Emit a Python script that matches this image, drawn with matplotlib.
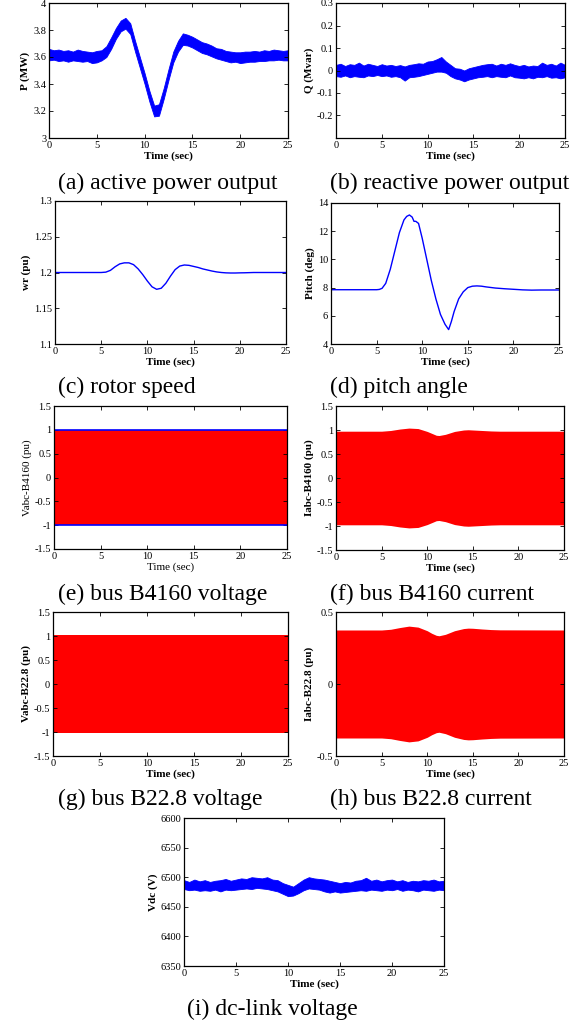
import matplotlib
matplotlib.use("Agg")
import matplotlib.pyplot as plt

plt.rcParams["font.family"] = ["Liberation Serif", "DejaVu Serif"]
plt.rcParams["axes.unicode_minus"] = False

# ---- data (time in sec) ----
T_HALF = [0, 0.5, 1, 1.5, 2, 2.5, 3, 3.5, 4, 4.5, 5, 5.5, 6, 6.5, 7, 7.5, 8, 8.5,
          9, 9.5, 10, 10.5, 11, 11.5, 12, 12.5, 13, 13.5, 14, 14.5, 15, 15.5, 16,
          16.5, 17, 17.5, 18, 18.5, 19, 19.5, 20, 20.5, 21, 21.5, 22, 22.5, 23,
          23.5, 24, 24.5, 25]

# (a) active power, noisy band edges (MW)
P_UPPER = [3.66, 3.65, 3.655, 3.645, 3.65, 3.64, 3.655, 3.645, 3.64, 3.635, 3.645,
           3.65, 3.68, 3.745, 3.815, 3.87, 3.89, 3.85, 3.72, 3.60, 3.48, 3.35, 3.24,
           3.25, 3.37, 3.51, 3.64, 3.72, 3.775, 3.765, 3.75, 3.73, 3.71, 3.70, 3.685,
           3.665, 3.66, 3.645, 3.64, 3.635, 3.635, 3.64, 3.64, 3.645, 3.64, 3.65,
           3.645, 3.655, 3.65, 3.645, 3.65]
P_LOWER = [3.575, 3.58, 3.57, 3.575, 3.565, 3.575, 3.57, 3.565, 3.57, 3.555, 3.56,
           3.575, 3.60, 3.66, 3.735, 3.79, 3.81, 3.77, 3.64, 3.52, 3.40, 3.27, 3.16,
           3.165, 3.29, 3.43, 3.56, 3.64, 3.69, 3.685, 3.67, 3.65, 3.63, 3.62, 3.605,
           3.59, 3.58, 3.57, 3.56, 3.565, 3.555, 3.56, 3.565, 3.565, 3.57, 3.57,
           3.575, 3.575, 3.58, 3.575, 3.575]

# (b) reactive power, noisy band edges (Mvar)
Q_UPPER = [0.025, 0.03, 0.02, 0.028, 0.025, 0.035, 0.022, 0.03, 0.025, 0.02, 0.028,
           0.022, 0.025, 0.02, 0.024, 0.018, 0.025, 0.028, 0.032, 0.03, 0.04, 0.042,
           0.05, 0.06, 0.04, 0.025, 0.01, 0.008, 0.0, 0.01, 0.015, 0.02, 0.025,
           0.028, 0.03, 0.022, 0.03, 0.025, 0.032, 0.025, 0.02, 0.025, 0.018, 0.022,
           0.02, 0.035, 0.025, 0.03, 0.022, 0.035, 0.025]
Q_LOWER = [-0.025, -0.028, -0.022, -0.03, -0.025, -0.028, -0.03, -0.022, -0.025,
           -0.02, -0.025, -0.022, -0.028, -0.025, -0.03, -0.045, -0.03, -0.028,
           -0.025, -0.02, -0.015, -0.01, -0.005, -0.005, -0.01, -0.025, -0.035,
           -0.04, -0.048, -0.04, -0.035, -0.03, -0.028, -0.025, -0.03, -0.025,
           -0.028, -0.03, -0.022, -0.03, -0.032, -0.035, -0.03, -0.035, -0.028,
           -0.03, -0.025, -0.032, -0.03, -0.035, -0.03]

# (c) rotor speed (pu)
WR = [1.2, 1.2, 1.2, 1.2, 1.2, 1.2, 1.2, 1.2, 1.2, 1.2, 1.2, 1.2005, 1.203, 1.208,
      1.212, 1.2135, 1.2135, 1.211, 1.205, 1.197, 1.188, 1.180, 1.1765, 1.178,
      1.185, 1.195, 1.204, 1.209, 1.2105, 1.210, 1.2085, 1.207, 1.205, 1.2035,
      1.202, 1.2008, 1.2, 1.1995, 1.1993, 1.1993, 1.1995, 1.1996, 1.1998, 1.2,
      1.2, 1.2, 1.2, 1.2, 1.2, 1.2, 1.2]

# (d) pitch angle (deg)
T_PITCH = [0, 5, 5.3, 5.6, 6, 6.5, 7, 7.5, 8, 8.3, 8.6, 8.9, 9.1, 9.3, 9.6, 10,
           10.5, 11, 11.5, 12, 12.5, 12.9, 13.2, 13.5, 14, 14.5, 15, 15.5, 16,
           16.5, 17, 18, 19, 20, 21, 22, 23, 25]
PITCH = [7.85, 7.85, 7.87, 7.95, 8.3, 9.3, 10.6, 11.9, 12.8, 13.05, 13.15, 13.0,
         12.7, 12.7, 12.55, 11.5, 10.0, 8.5, 7.2, 6.1, 5.4, 5.02, 5.6, 6.3, 7.2,
         7.7, 8.0, 8.1, 8.12, 8.1, 8.05, 7.97, 7.92, 7.88, 7.84, 7.82, 7.83, 7.83]

# (e)-(h) three-phase envelopes (pu)
T_ENV = [0, 5, 6, 7, 8, 9, 10, 10.5, 11, 11.3, 12, 13, 14, 14.5, 15, 16, 17, 18, 25]
V4160_ENV = [1.0] * len(T_ENV)
I4160_ENV = [0.975, 0.975, 0.99, 1.02, 1.04, 1.03, 0.97, 0.93, 0.89, 0.885, 0.91,
             0.97, 1.0, 1.005, 1.0, 0.99, 0.98, 0.975, 0.975]
V228_ENV = [1.03] * len(T_ENV)
I228_ENV = [0.375, 0.375, 0.38, 0.392, 0.402, 0.395, 0.37, 0.352, 0.338, 0.335,
            0.345, 0.37, 0.385, 0.388, 0.387, 0.382, 0.378, 0.376, 0.375]

# (i) dc-link voltage, noisy band edges (V)
VDC_UPPER = [6495, 6492, 6496, 6493, 6495, 6492, 6494, 6495, 6497, 6494, 6496,
             6498, 6497, 6500, 6499, 6498, 6500, 6496, 6495, 6490, 6487, 6484,
             6490, 6496, 6500, 6498, 6497, 6496, 6494, 6492, 6490, 6492, 6491,
             6494, 6495, 6499, 6494, 6496, 6493, 6495, 6496, 6493, 6495, 6492,
             6494, 6493, 6495, 6494, 6496, 6493, 6494]
VDC_LOWER = [6480, 6478, 6479, 6477, 6478, 6477, 6479, 6476, 6479, 6478, 6479,
             6480, 6481, 6480, 6482, 6481, 6480, 6478, 6476, 6472, 6468, 6469,
             6473, 6478, 6481, 6480, 6479, 6476, 6474, 6476, 6474, 6475, 6476,
             6477, 6478, 6477, 6479, 6478, 6477, 6479, 6478, 6480, 6477, 6479,
             6478, 6476, 6479, 6478, 6477, 6479, 6478]

X_TICKS = [0, 5, 10, 15, 20, 25]
BLUE = "#0000ff"
RED = "#ff0000"

W, H = 584, 1026


def add_ax(fig, left, top, right, bottom):
    return fig.add_axes([left / W, 1 - bottom / H, (right - left) / W,
                         (bottom - top) / H])


def style(ax, ylim, yticks, ylabel, bold=True):
    ax.set_xlim(0, 25)
    ax.set_ylim(*ylim)
    ax.set_xticks(X_TICKS)
    ax.set_xticklabels([f"{v:g}" for v in X_TICKS])
    ax.set_yticks(yticks)
    ax.set_yticklabels([f"{v:g}" for v in yticks])
    ax.tick_params(direction="in", top=True, right=True, length=3, width=0.6,
                   labelsize=7.5, pad=2)
    weight = "bold" if bold else "normal"
    ax.set_xlabel("Time (sec)", fontsize=8, fontweight=weight, labelpad=1)
    ax.set_ylabel(ylabel, fontsize=8, fontweight=weight, labelpad=2)
    for sp in ax.spines.values():
        sp.set_linewidth(0.9)


def caption(fig, x, y, text):
    fig.text(x / W, 1 - y / H, text, fontsize=17, va="baseline", ha="left")


fig = plt.figure(figsize=(W / 100, H / 100), dpi=100)

# (a)
ax = add_ax(fig, 49, 3, 288, 138)
ax.fill_between(T_HALF, P_LOWER, P_UPPER, color=BLUE, lw=0.6)
style(ax, (3, 4), [3, 3.2, 3.4, 3.6, 3.8, 4], "P (MW)")
caption(fig, 58, 189, "(a) active power output")

# (b)
ax = add_ax(fig, 336, 3, 565, 138)
ax.fill_between(T_HALF, Q_LOWER, Q_UPPER, color=BLUE, lw=0.6)
style(ax, (-0.3, 0.3), [-0.2, -0.1, 0, 0.1, 0.2, 0.3], "Q (Mvar)")
caption(fig, 330, 189, "(b) reactive power output")

# (c)
ax = add_ax(fig, 55, 201, 286, 344)
ax.plot(T_HALF, WR, color=BLUE, lw=1.0)
style(ax, (1.1, 1.3), [1.1, 1.15, 1.2, 1.25, 1.3], "wr (pu)")
caption(fig, 58, 393, "(c) rotor speed")

# (d)
ax = add_ax(fig, 331, 203, 559, 344)
ax.plot(T_PITCH, PITCH, color=BLUE, lw=1.0)
style(ax, (4, 14), [4, 6, 8, 10, 12, 14], "Pitch (deg)")
caption(fig, 330, 393, "(d) pitch angle")

# (e)
ax = add_ax(fig, 54, 406, 287, 549)
ax.fill_between(T_ENV, [-v for v in V4160_ENV], V4160_ENV, color=RED, lw=0)
ax.plot(T_ENV, V4160_ENV, color=BLUE, lw=1.2)
ax.plot(T_ENV, [-v for v in V4160_ENV], color=BLUE, lw=1.2)
style(ax, (-1.5, 1.5), [-1.5, -1, -0.5, 0, 0.5, 1, 1.5], "Vabc-B4160 (pu)",
      bold=False)
caption(fig, 58, 600, "(e) bus B4160 voltage")

# (f)
ax = add_ax(fig, 336, 406, 564, 550)
ax.fill_between(T_ENV, [-v for v in I4160_ENV], I4160_ENV, color=RED, lw=0)
style(ax, (-1.5, 1.5), [-1.5, -1, -0.5, 0, 0.5, 1, 1.5], "Iabc-B4160 (pu)")
caption(fig, 330, 600, "(f) bus B4160 current")

# (g)
ax = add_ax(fig, 53, 612, 288, 756)
ax.fill_between(T_ENV, [-v for v in V228_ENV], V228_ENV, color=RED, lw=0)
style(ax, (-1.5, 1.5), [-1.5, -1, -0.5, 0, 0.5, 1, 1.5], "Vabc-B22.8 (pu)")
caption(fig, 58, 805, "(g) bus B22.8 voltage")

# (h)
ax = add_ax(fig, 336, 612, 564, 756)
ax.fill_between(T_ENV, [-v for v in I228_ENV], I228_ENV, color=RED, lw=0)
style(ax, (-0.5, 0.5), [-0.5, 0, 0.5], "Iabc-B22.8 (pu)")
caption(fig, 330, 805, "(h) bus B22.8 current")

# (i)
ax = add_ax(fig, 184, 818, 444, 966)
ax.fill_between(T_HALF, VDC_LOWER, VDC_UPPER, color=BLUE, lw=0.6)
style(ax, (6350, 6600), [6350, 6400, 6450, 6500, 6550, 6600], "Vdc (V)")
caption(fig, 187, 1015, "(i) dc-link voltage")

fig.savefig("out.png", dpi=100)
